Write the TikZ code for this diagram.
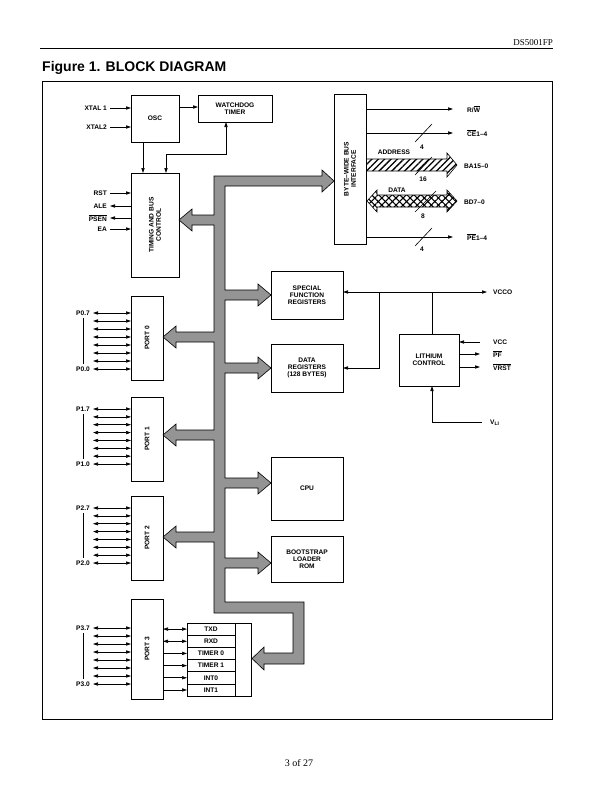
\documentclass[tikz,border=0pt]{standalone}
\usepackage{fontspec}
\newfontfamily\dssans{Liberation Sans}
\newfontfamily\dsserif{Liberation Serif}
\usetikzlibrary{arrows.meta,patterns.meta}
\newcommand\dsf{\dssans\bfseries\fontsize{6.6}{7.2}\selectfont}
\newcommand\ovl[1]{$\overline{\mbox{#1}}$}
\newcommand\dsbox[6]{\node[box,minimum width={(#4-(#2))*1pt},minimum height={(#5-(#3))*1pt}] (#1) at ({(#2+#4)/2},{(#3+#5)/2}) {#6};}
\begin{document}
\begin{tikzpicture}[x=1pt,y=-1pt,
  >={Triangle[length=5pt,width=3.2pt]},
  box/.style={draw,line width=0.6pt,inner sep=0pt,outer sep=0pt,align=center,font=\dsf},
  wire/.style={line width=0.6pt},
  lab/.style={font=\dsf,inner sep=0pt,align=center},
  bus/.style={draw,line width=0.6pt,fill=black!42},
]
\useasboundingbox (0,0) rectangle (612,792);
% header / footer
\draw[line width=0.8pt] (40,48) -- (553,48);
\node[anchor=east,inner sep=0pt,font=\dsserif\fontsize{9}{10}\selectfont] (hdr) at (553,42.5) {DS5001FP};
\node[anchor=west,inner sep=0pt,font=\dssans\bfseries\fontsize{14}{15}\selectfont] (ttl) at (42,68) {Figure 1. BLOCK DIAGRAM};
\draw[line width=0.9pt] (42,81) rectangle (552,719);
\node[inner sep=0pt,font=\dsserif\fontsize{10}{11}\selectfont] (ftr) at (299,763) {3 of 27};

% boxes
\dsbox{osc}{131}{95}{179}{142}{OSC}
\dsbox{wd}{198}{95}{272}{122}{WATCHDOG\\TIMER}
\dsbox{tim}{131}{173}{179}{277}{}
\node[lab,rotate=90] (timl) at (tim.center) {TIMING AND BUS\\CONTROL};
\dsbox{bwi}{334}{94}{366}{244}{}
\node[lab,rotate=90] (bwil) at (bwi.center) {BYTE–WIDE BUS\\INTERFACE};
\dsbox{sfr}{271}{271}{343}{319}{SPECIAL\\FUNCTION\\REGISTERS}
\dsbox{dreg}{271}{344}{343}{392}{DATA\\REGISTERS\\(128 BYTES)}
\dsbox{lith}{399}{334}{459}{386}{LITHIUM\\CONTROL}
\dsbox{cpu}{271}{457}{343}{520}{CPU}
\dsbox{boot}{271}{536}{343}{582}{BOOTSTRAP\\LOADER\\ROM}
\dsbox{pa}{131}{296}{163}{380}{}
\dsbox{pb}{131}{397}{163}{481}{}
\dsbox{pc}{131}{496}{163}{580}{}
\dsbox{pd}{131}{599}{163}{699}{}
\node[lab,rotate=90] at (pa.center) {PORT 0};
\node[lab,rotate=90] at (pb.center) {PORT 1};
\node[lab,rotate=90] at (pc.center) {PORT 2};
\node[lab,rotate=90] at (pd.center) {PORT 3};
\dsbox{per}{187}{623}{251}{696}{}
\foreach \t/\n [count=\i from 0] in {TXD/txd,RXD/rxd,TIMER 0/tza,TIMER 1/tzb,INT0/ia,INT1/ib}{
  \node[box,minimum width=48pt,minimum height=12.17pt] (\n) at (211,{623+12.17*\i+6.08}) {\t};
}

% internal bus
\draw[bus] (214,176) -- (322,176) -- (322,170) -- (334,181) -- (322,192) -- (322,186) -- (225,186)
 -- (225,290) -- (258,290) -- (258,284) -- (271,295) -- (258,306) -- (258,300) -- (225,300)
 -- (225,363) -- (258,363) -- (258,357) -- (271,368) -- (258,379) -- (258,373) -- (225,373)
 -- (225,478) -- (258,478) -- (258,472) -- (271,483) -- (258,494) -- (258,488) -- (225,488)
 -- (225,558) -- (258,558) -- (258,552) -- (271,563) -- (258,574) -- (258,568) -- (225,568)
 -- (225,602) -- (304,602) -- (304,664) -- (264,664) -- (264,670) -- (252,658.5) -- (264,647) -- (264,653) -- (293,653) -- (293,613)
 -- (214,613)
 -- (214,542) -- (176,542) -- (176,548) -- (163,537) -- (176,526) -- (176,532) -- (214,532)
 -- (214,440) -- (176,440) -- (176,446) -- (163,435) -- (176,424) -- (176,430) -- (214,430)
 -- (214,342) -- (176,342) -- (176,348) -- (163,337) -- (176,326) -- (176,332) -- (214,332)
 -- (214,225) -- (192,225) -- (192,231) -- (179,220) -- (192,209) -- (192,215) -- (214,215)
 -- cycle;

% oscillator / timing
\coordinate (xt1) at (110,108); \coordinate (xt2) at (110,127);
\node[lab,anchor=east] at (107,108) {XTAL 1};
\node[lab,anchor=east] at (107,127) {XTAL2};
\draw[wire,->] (xt1) -- (xt1 -| osc.west);
\draw[wire,->] (xt2) -- (xt2 -| osc.west);
\draw[wire,->] ([yshift=1.5pt]wd.west -| osc.east) -- ([yshift=1.5pt]wd.west);
\draw[wire,->] ([xshift=-12pt]osc.south) -- ([xshift=-12pt]osc.south |- tim.north);
\draw[wire,<->] ([xshift=-9pt]wd.south) -- ++(0,32) -| ([xshift=11pt]tim.north);
\foreach \n/\y/\d/\t in {rst/193/->/RST, ale/206/<-/ALE, psen/218/<-/\ovl{PSEN}, ea/229/->/EA}{
  \coordinate (\n) at (110,\y);
  \node[lab,anchor=east] at (107,\y) {\t};
  \draw[wire,\d] (\n) -- (\n -| tim.west);
}

% byte-wide bus outputs
\coordinate (rw) at (453,109); \coordinate (ce) at (453,133); \coordinate (pe) at (453,237);
\draw[wire,->] (rw -| bwi.east) -- (rw);
\draw[wire,->] (ce -| bwi.east) -- (ce);
\draw[wire,->] (pe -| bwi.east) -- (pe);
\node[lab,anchor=west] at (467,109) {R/\ovl{W}};
\node[lab,anchor=west] at (467,133) {\ovl{CE}1–4};
\node[lab,anchor=west] at (467,237) {\ovl{PE}1–4};
\draw[pattern={Lines[angle=45,distance=4.5pt,line width=1.3pt]},line width=0.6pt]
  (366,159) -- (447,159) -- (447,153) -- (457,165) -- (447,177) -- (447,171) -- (366,171);
\path[pattern={Lines[angle=45,distance=5pt,line width=1.1pt]}]
  (367,201) -- (377,190) -- (377,195) -- (447,195) -- (447,190) -- (457,201) -- (447,212) -- (447,207) -- (377,207) -- (377,212) -- cycle;
\draw[pattern={Lines[angle=-45,distance=5pt,line width=1.1pt]},line width=0.6pt]
  (367,201) -- (377,190) -- (377,195) -- (447,195) -- (447,190) -- (457,201) -- (447,212) -- (447,207) -- (377,207) -- (377,212) -- cycle;
\node[lab] at (394,152) {ADDRESS};
\node[lab] at (397,190) {DATA};
\node[lab,anchor=west] at (464,166) {BA15–0};
\node[lab,anchor=west] at (464,202) {BD7–0};
\draw[wire] (415,142) -- (432,124);
\draw[wire] (415,175) -- (432,157);
\draw[wire] (415,212) -- (436,191);
\draw[wire] (415,246) -- (432,228);
\node[lab] at (422,147) {4};
\node[lab] at (423,179) {16};
\node[lab] at (423,216) {8};
\node[lab] at (422,249) {4};

% power
\coordinate (vcco) at (487,292); \coordinate (ja) at (379,292); \coordinate (jb) at (432,292);
\draw[wire,<->] (vcco -| sfr.east) -- (vcco);
\draw[wire,->] (ja) |- (dreg.east);
\draw[wire] (jb) -- (jb |- lith.north);
\node[lab,anchor=west] at (493,292) {VCCO};
\coordinate (vcc) at (480,342); \coordinate (pf) at (480,354); \coordinate (vrst) at (480,367);
\draw[wire,->] (vcc) -- (vcc -| lith.east);
\draw[wire,->] (pf -| lith.east) -- (pf);
\draw[wire,->] (vrst -| lith.east) -- (vrst);
\node[lab,anchor=west] at (493,342) {VCC};
\node[lab,anchor=west] at (493,354) {\ovl{PF}};
\node[lab,anchor=west] at (493,367) {\ovl{VRST}};
\coordinate (vli) at (482,422);
\draw[wire,->] (vli) -- (vli -| jb) -- (jb |- lith.south);
\node[lab,anchor=west] at (490,423) {V\raisebox{-1.3pt}{\fontsize{5}{5}\selectfont LI}};

% port pins
\foreach \p/\b/\s/\st in {pa/313/0/8, pb/409/1/7.86, pc/508/2/7.86, pd/628/3/8}{
  \foreach \k in {0,...,7}{
    \coordinate (\p pin\k) at (93,{\b+\st*\k});
    \draw[wire,<->] (\p pin\k) -- (\p pin\k -| \p.west);
  }
  \node[lab,anchor=east] (\p top) at (90,\b) {P\s.7};
  \node[lab,anchor=east] (\p bot) at (90,{\b+\st*7}) {P\s.0};
  \draw[wire] ([yshift=-2.5pt]\p top.south) -- ([yshift=2.5pt]\p bot.north);
}

% port 3 alternate functions
\draw[wire,<->] (txd.west -| pd.east) -- (txd.west);
\draw[wire,<->] (rxd.west -| pd.east) -- (rxd.west);
\foreach \n in {tza,tzb,ia,ib}{
  \draw[wire,->] (\n.west -| pd.east) -- (\n.west);
}
\end{tikzpicture}
\end{document}
